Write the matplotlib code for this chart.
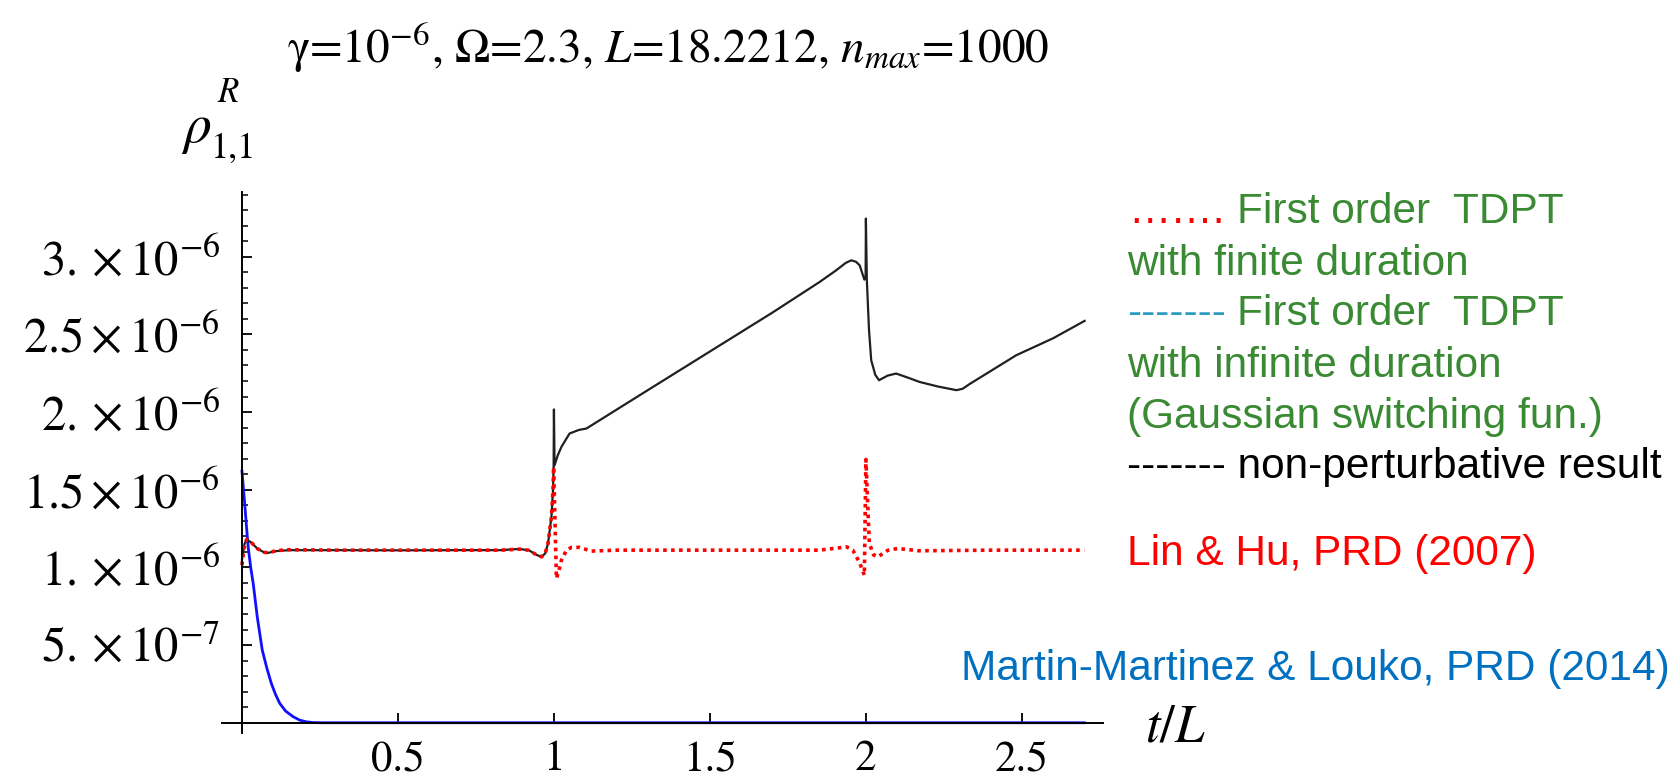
import matplotlib
matplotlib.use("Agg")
import matplotlib.pyplot as plt
import numpy as np

plt.rcParams['mathtext.fontset'] = 'stix'
plt.rcParams['font.family'] = 'STIXGeneral'

# non-perturbative result (units of 1e-6)
t_np = [0.0, 0.008, 0.015, 0.03, 0.05, 0.07, 0.084, 0.11, 0.15, 0.3, 0.5, 0.7,
        0.83, 0.87, 0.891, 0.92, 0.945, 0.96, 0.972, 0.981, 0.992, 0.997, 0.999,
        1.0, 1.002, 1.012, 1.024, 1.05, 1.08, 1.104, 1.147, 1.3, 1.5, 1.7,
        1.852, 1.905, 1.935, 1.953, 1.968, 1.98, 1.995, 1.999, 2.0, 2.003,
        2.01, 2.017, 2.03, 2.042, 2.07, 2.097, 2.13, 2.172, 2.23, 2.29, 2.31,
        2.332, 2.482, 2.6, 2.701]
rho_np = [1.05, 1.15, 1.18, 1.16, 1.12, 1.098, 1.094, 1.105, 1.111, 1.111, 1.110, 1.111,
          1.111, 1.117, 1.118, 1.11, 1.08, 1.068, 1.09, 1.154, 1.326, 1.497, 1.647,
          2.017, 1.658, 1.72, 1.776, 1.862, 1.885, 1.894, 1.948, 2.14, 2.39, 2.64,
          2.838, 2.913, 2.960, 2.977, 2.968, 2.945, 2.853, 2.86, 3.246, 2.849,
          2.527, 2.334, 2.24, 2.205, 2.235, 2.248, 2.225, 2.194, 2.165, 2.141, 2.15,
          2.18, 2.366, 2.475, 2.587]

# Lin & Hu, first order with finite duration
t_lh = [0.0, 0.006, 0.015, 0.03, 0.05, 0.07, 0.084, 0.11, 0.15, 0.3, 0.5, 0.83,
        0.891, 0.92, 0.945, 0.96, 0.972, 0.981, 0.992, 0.997, 0.999, 1.008,
        1.016, 1.024, 1.04, 1.056, 1.082, 1.12, 1.2, 1.5, 1.85, 1.91, 1.937,
        1.958, 1.98, 1.995, 2.0, 2.011, 2.025, 2.038, 2.07, 2.102, 2.17, 2.4, 2.7]
rho_lh = [1.015, 1.12, 1.18, 1.16, 1.12, 1.098, 1.094, 1.108, 1.114, 1.111, 1.111, 1.111,
          1.118, 1.11, 1.08, 1.068, 1.09, 1.154, 1.326, 1.497, 1.647, 0.929,
          0.98, 1.047, 1.11, 1.129, 1.129, 1.105, 1.111, 1.111, 1.111, 1.125, 1.133,
          1.111, 1.03, 0.950, 1.695, 1.154, 1.08, 1.068, 1.11, 1.122, 1.107, 1.111, 1.111]

# Martin-Martinez & Louko
t_mm = [0.0, 0.005, 0.01, 0.015, 0.02, 0.028, 0.036, 0.049, 0.065, 0.08, 0.094,
        0.107, 0.121, 0.14, 0.164, 0.185, 0.206, 0.23, 0.26, 2.7]
rho_mm = [1.62, 1.50, 1.38, 1.25, 1.13, 1.0, 0.897, 0.682, 0.468, 0.35, 0.254,
          0.185, 0.125, 0.075, 0.039, 0.017, 0.006, 0.001, 0.0, 0.0]

yticks = [0.5, 1.0, 1.5, 2.0, 2.5, 3.0]
ytick_labels = [r'$5.\times10^{-7}$', r'$1.\times10^{-6}$', r'$1.5\times10^{-6}$',
                r'$2.\times10^{-6}$', r'$2.5\times10^{-6}$', r'$3.\times10^{-6}$']
xticks = [0.5, 1.0, 1.5, 2.0, 2.5]
xtick_labels = ['0.5', '1', '1.5', '2', '2.5']

W, H = 1678, 782
fig = plt.figure(figsize=(W/100, H/100), dpi=100)
ax = fig.add_axes([222/W, 49/H, 881/W, 541.5/H])

sc = 1e-6
ax.plot(t_np, np.array(rho_np)*sc, color='#202020', lw=1.6, zorder=3)
ax.plot(t_lh, np.array(rho_lh)*sc, color='red', lw=2.6, ls=(0, (1, 1.2)), zorder=4)
ax.plot(t_mm, np.array(rho_mm)*sc, color='#1010ff', lw=2.0, zorder=2)

ax.set_xlim(-0.064, 2.76)
ax.set_ylim(-0.066e-6, 3.42e-6)

for s in ['top', 'right']:
    ax.spines[s].set_visible(False)
for s in ['left', 'bottom']:
    ax.spines[s].set_position(('data', 0))
    ax.spines[s].set_linewidth(1.4)
    ax.spines[s].set_zorder(5)

ax.set_yticks(np.array(yticks)*sc)
ax.set_yticklabels(ytick_labels)
minor = [k/10 for k in range(1, 35) if k % 5 != 0]
ax.set_yticks(np.array(minor)*sc, minor=True)
ax.set_xticks(xticks)
ax.set_xticklabels(xtick_labels)

ax.tick_params(axis='y', which='major', direction='in', length=7.5, width=1.3,
               labelsize=35, pad=16)
ax.tick_params(axis='y', which='minor', direction='in', length=4.5, width=1.1)
ax.tick_params(axis='x', which='major', direction='in', length=7.5, width=1.3,
               labelsize=31, pad=13)

fig.text(1145/W, 1 - 729/H, r'$t/L$', fontsize=38, va='center', ha='left')

# title and y label
fig.text(668/W, 1 - 63/H, r'$\mathrm{\gamma}$=10$^{-6}$, $\Omega$=2.3, $L$=18.2212, $n_{max}$=1000',
         fontsize=34, ha='center', va='baseline')
fig.text(181/W, 1 - 142/H, r'$\rho$', fontsize=40, ha='left', va='baseline')
fig.text(217/W, 1 - 102/H, r'$R$', fontsize=25, ha='left', va='baseline')
fig.text(211/W, 1 - 158/H, '1,1', fontsize=26, ha='left', va='baseline')

# annotations on the right
green = '#3a8a34'
sans = 'Liberation Sans'
fs = 30.5
fig.text(1128/W, 1 - 223/H, '…….', color='red', fontsize=fs, family=sans, va='baseline')
fig.text(1237/W, 1 - 223/H, 'First order  TDPT', color=green, fontsize=fs, family=sans, va='baseline')
fig.text(1127/W, 1 - 275/H, 'with finite duration', color=green, fontsize=fs, family=sans, va='baseline')
fig.text(1127/W, 1 - 325/H, '-------', color='#2e9cc0', fontsize=fs, family=sans, va='baseline')
fig.text(1237/W, 1 - 325/H, 'First order  TDPT', color=green, fontsize=fs, family=sans, va='baseline')
fig.text(1127/W, 1 - 377/H, 'with infinite duration', color=green, fontsize=fs, family=sans, va='baseline')
fig.text(1127/W, 1 - 428/H, '(Gaussian switching fun.)', color=green, fontsize=fs, family=sans, va='baseline')
fig.text(1127/W, 1 - 478/H, '------- non-perturbative result', color='black', fontsize=fs, family=sans, va='baseline')
fig.text(1127/W, 1 - 565/H, 'Lin & Hu, PRD (2007)', color='red', fontsize=fs, family=sans, va='baseline')
fig.text(961/W, 1 - 680/H, 'Martin-Martinez & Louko, PRD (2014)', color='#0070c0', fontsize=fs,
         family=sans, va='baseline')

fig.savefig('out.png', dpi=100)
